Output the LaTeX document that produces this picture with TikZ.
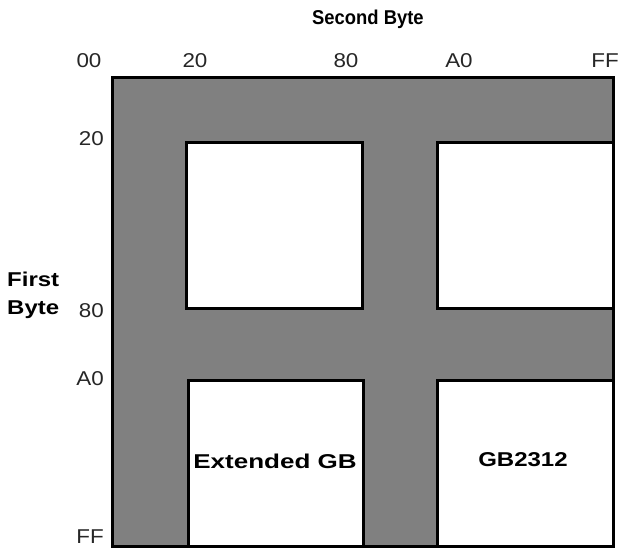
\documentclass[tikz,border=0pt]{standalone}
\usepackage{fontspec}
\setmainfont{Liberation Sans}
\newfontfamily\labf[FakeStretch=1.2]{Liberation Sans}
\newfontfamily\widef[FakeStretch=1.3]{Liberation Sans}
\newfontfamily\narrowf[FakeStretch=0.92]{Liberation Sans}
\newfontfamily\tickf[FakeStretch=1.12]{Liberation Sans}
\definecolor{fillgray}{HTML}{808080}
\begin{document}
\begin{tikzpicture}[x=1pt,y=-1pt,
  bold/.style={font=\labf\bfseries\fontsize{20}{24}\selectfont, inner sep=0pt},
  title/.style={font=\narrowf\bfseries\fontsize{20}{24}\selectfont, inner sep=0pt},
  wide/.style={font=\widef\bfseries\fontsize{20}{24}\selectfont, inner sep=0pt},
  tick/.style={font=\tickf\fontsize{20}{24}\selectfont, inner sep=0pt, text=black!85},
  frame/.style={draw=black, line width=3pt},
]
\useasboundingbox (0,0) rectangle (622,548);
% gray field
\path[frame, fill=fillgray] (112.5,77.5) rectangle (613,546);
% white areas
\path[frame, fill=white] (186,142.5) rectangle (362,309);
\path[frame, fill=white] (437,142.5) rectangle (613,309);
\path[frame, fill=white] (188,381) rectangle (363.5,546);
\path[frame, fill=white] (437,381) rectangle (613,546);
% titles
\node[title, anchor=west] (sb) at (312,19) {Second Byte};
\node[bold, anchor=west] (fb1) at (7,279) {First};
\node[bold, anchor=west] (fb2) at (7,310) {Byte};
% column ticks
\node[tick] (c00) at (89,61) {00};
\node[tick] (c20) at (195,61) {20};
\node[tick] (c80) at (346,61) {80};
\node[tick] (cA0) at (459,61) {A0};
\node[tick] (cFF) at (605,61) {FF};
% row ticks
\node[tick, anchor=east] (r20) at (104,139) {20};
\node[tick, anchor=east] (r80) at (104,311) {80};
\node[tick, anchor=east] (rA0) at (104,379) {A0};
\node[tick, anchor=east] (rFF) at (104,537) {FF};
% region labels
\node[wide] (ext) at (275,461) {Extended GB};
\node[bold] (gb) at (523,460) {GB2312};
\end{tikzpicture}
\end{document}
